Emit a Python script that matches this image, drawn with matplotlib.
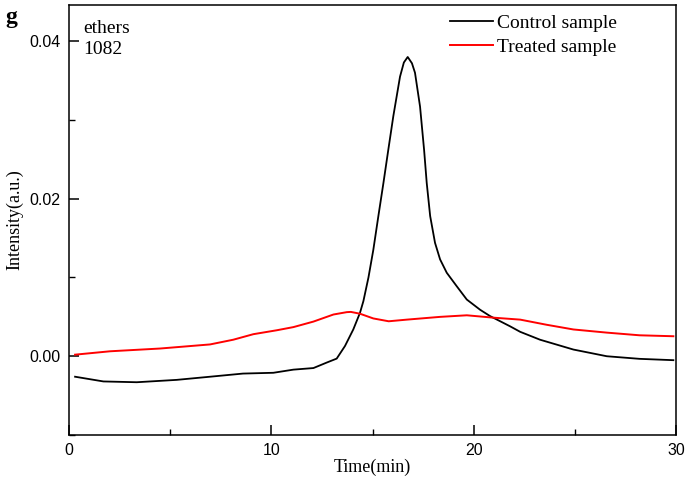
import matplotlib
matplotlib.use("Agg")
import matplotlib.pyplot as plt
from matplotlib.ticker import MultipleLocator, FormatStrFormatter

# Control sample (black)
control_t = [0.30, 1.7, 3.35, 5.32, 6.97, 8.6, 10.1, 11.09, 12.08, 12.74, 13.23, 13.64, 14.05,
             14.38, 14.55, 14.8, 15.04, 15.29, 15.54, 15.78, 16.03, 16.36, 16.55, 16.74, 16.95,
             17.1, 17.35, 17.55, 17.68, 17.85, 18.09, 18.34, 18.67, 19.16, 19.66, 20.32, 20.81,
             21.8, 22.3, 23.28, 24.93, 26.58, 28.2, 29.87]
control_i = [-0.0026, -0.0032, -0.0033, -0.0030, -0.0026, -0.0022, -0.0021, -0.0017, -0.0015,
             -0.0008, -0.0003, 0.0013, 0.0034, 0.0055, 0.0070, 0.0100, 0.0135, 0.0178, 0.0220,
             0.0262, 0.0305, 0.0355, 0.0373, 0.0380, 0.0372, 0.0360, 0.0317, 0.0262, 0.0220,
             0.0178, 0.0144, 0.0123, 0.0106, 0.0089, 0.0072, 0.0059, 0.0051, 0.0038, 0.0031,
             0.0021, 0.00085, 0.0, -0.00033, -0.0005]

# Treated sample (red)
treated_t = [0.30, 2.03, 4.5, 6.97, 8.12, 9.11, 10.27, 11.09, 12.08, 13.07, 13.73, 13.93, 14.38,
             15.04, 15.8, 16.7, 18.34, 19.66, 20.97, 22.3, 23.6, 24.93, 26.58, 28.2, 29.87]
treated_i = [0.0002, 0.00063, 0.00098, 0.0015, 0.0021, 0.0028, 0.0033, 0.0037, 0.0044, 0.0053,
             0.0056, 0.00563, 0.0054, 0.0048, 0.00444, 0.00465, 0.0050, 0.0052, 0.0049, 0.00465,
             0.0040, 0.0034, 0.0030, 0.00266, 0.00254]

series_labels = ["Control sample", "Treated sample"]
serif = ["Liberation Serif", "DejaVu Serif"]
sans = ["Liberation Sans", "DejaVu Sans"]

fig = plt.figure(figsize=(6.85, 4.8), dpi=100)
ax = fig.add_axes([69/685, 45/480, 607/685, 430/480])

ax.plot(control_t, control_i, color="black", lw=1.3, label=series_labels[0])
ax.plot(treated_t, treated_i, color="#ff0000", lw=1.4, label=series_labels[1])

ax.set_xlim(0, 30)
ax.set_ylim(-0.01, 0.0446)
ax.xaxis.set_major_locator(MultipleLocator(10))
ax.xaxis.set_minor_locator(MultipleLocator(5))
ax.yaxis.set_major_locator(MultipleLocator(0.02))
ax.yaxis.set_minor_locator(MultipleLocator(0.01))
ax.yaxis.set_major_formatter(FormatStrFormatter("%.2f"))
ax.xaxis.set_major_formatter(FormatStrFormatter("%d"))
ax.tick_params(which="major", direction="in", length=7, width=1.1, labelsize=11.5, pad=6)
ax.tick_params(which="minor", direction="in", length=4, width=1.0)
for lab in ax.get_xticklabels() + ax.get_yticklabels():
    lab.set_fontfamily(sans)
for sp in ax.spines.values():
    sp.set_linewidth(1.1)

ax.set_xlabel("Time(min)", family=serif, fontsize=13, labelpad=0)
ax.set_ylabel("Intensity(a.u.)", family=serif, fontsize=13, labelpad=4)

ax.text(0.024, 0.966, "ethers\n1082", transform=ax.transAxes, ha="left", va="top",
        family=serif, fontsize=14, linespacing=1.3)
fig.text(0.008, 0.985, "g", family=serif, fontsize=17, fontweight="bold", ha="left", va="top")

leg = ax.legend(loc="upper left", bbox_to_anchor=(0.615, 0.997), frameon=False,
                prop={"family": serif, "size": 14}, handlelength=2.2, handletextpad=0.2,
                labelspacing=0.35, borderaxespad=0.0)

fig.savefig("out.png", dpi=100)
